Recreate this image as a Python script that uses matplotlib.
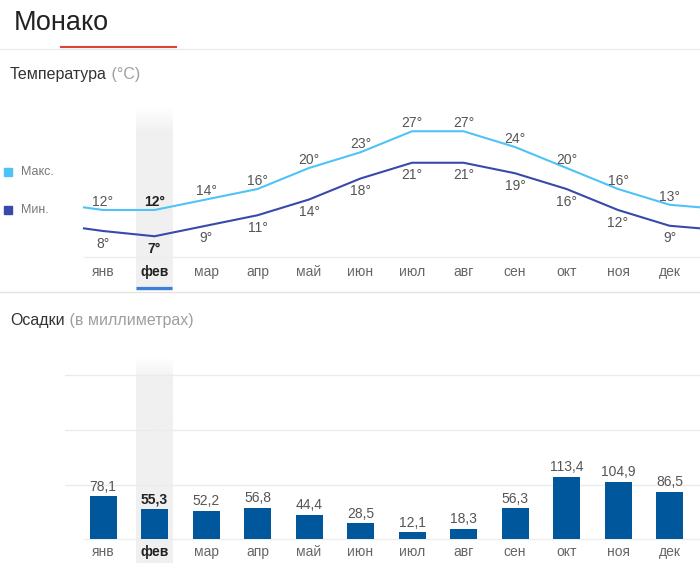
import numpy as np
import matplotlib.pyplot as plt
from matplotlib.lines import Line2D
from matplotlib.patches import Rectangle

plt.rcParams['font.family'] = ['Liberation Sans', 'DejaVu Sans']

months = ["янв", "фев", "мар", "апр", "май", "июн",
          "июл", "авг", "сен", "окт", "ноя", "дек"]
t_max = [12, 12, 14, 16, 20, 23, 27, 27, 24, 20, 16, 13]
t_min = [8, 7, 9, 11, 14, 18, 21, 21, 19, 16, 12, 9]
rain = [78.1, 55.3, 52.2, 56.8, 44.4, 28.5, 12.1, 18.3, 56.3, 113.4, 104.9, 86.5]
rain_grid = [100, 200, 300]
selected = 1  # фев

C_MAX = "#4fc3f7"
C_MIN = "#3949ab"
C_BAR = "#01579b"
C_TXT = "#555555"
C_SEL = "#222222"

W, H = 700, 563
fig = plt.figure(figsize=(W / 100, H / 100), dpi=100)


def px_rect(l, t, r, b):
    return [l / W, 1 - b / H, (r - l) / W, (b - t) / H]


def fy(py):
    return 1 - py / H


def shade(ax, sel, fade=0.13):
    # light grey column behind the selected month, fading out at the top
    y0, y1 = ax.get_ylim()
    x0, x1 = ax.get_xlim()
    n = 200
    img = np.ones((n, 1, 4))
    img[..., :3] = 240 / 255
    img[:, 0, 3] = np.clip(np.linspace(0, 1, n) / fade, 0, 1)
    ax.imshow(img, extent=[sel - 0.36, sel + 0.34, y0, y1], aspect="auto",
              zorder=0, interpolation="bilinear")
    ax.set_xlim(x0, x1)
    ax.set_ylim(y0, y1)


def month_labels(ax, ypos):
    tr = ax.get_xaxis_transform()
    for i, m in enumerate(months):
        sel = i == selected
        ax.text(i, ypos, m, transform=tr, ha="center", va="center", fontsize=10,
                color=C_SEL if sel else "#666666",
                fontweight="bold" if sel else "normal")


XLIM = (-0.738, 11.592)

# header
fig.text(14 / W, fy(23), "Монако", fontsize=19.5, color="#222222", va="center")
fig.add_artist(Line2D([0, 1], [fy(48.5)] * 2, color="#ebebeb", lw=1))
fig.add_artist(Line2D([61 / W, 176 / W], [fy(46.5)] * 2, color="#db4437", lw=1.5))
fig.add_artist(Line2D([0, 1], [fy(291.5)] * 2, color="#e3e3e3", lw=1))

# temperature
ax_t = fig.add_axes(px_rect(65, 108, 700, 291))
ax_t.set_xlim(*XLIM)
ax_t.set_ylim(-3.43, 31.43)
ax_t.axis("off")
shade(ax_t, selected, fade=0.14)

h1 = fig.text(10 / W, fy(75), "Температура", fontsize=11.5, color="#333333", va="center")
ax_t.annotate(" (°C)", xy=(1, 0.5), xycoords=h1, va="center", ha="left",
              fontsize=11.5, color="#9e9e9e", annotation_clip=False)

x = np.arange(len(months))
xe = np.concatenate([[-0.37], x, [11.6]])
for vals, col in ((t_max, C_MAX), (t_min, C_MIN)):
    edge = (vals[0] + vals[-1]) / 2
    ax_t.plot(xe, [edge] + vals + [edge], color=col, lw=1.5, zorder=3,
              solid_joinstyle="round")

for i in x:
    sel = i == selected
    kw = dict(ha="center", fontsize=10, textcoords="offset points",
              color=C_SEL if sel else C_TXT,
              fontweight="bold" if sel else "normal", zorder=4)
    ax_t.annotate(f"{t_max[i]}°", (i, t_max[i]), xytext=(0, 3), va="baseline", **kw)
    ax_t.annotate(f"{t_min[i]}°", (i, t_min[i]), xytext=(0, -4), va="top", **kw)

ax_t.axhline(3.05, xmin=19 / 635, xmax=1, color="#eeeeee", lw=1, zorder=1)
month_labels(ax_t, 0.104)
ax_t.plot([selected - 0.36, selected + 0.34], [0.014, 0.014],
          transform=ax_t.get_xaxis_transform(), color="#3a7fd5", lw=2.3,
          solid_capstyle="butt", zorder=4)

# legend
for py, col, lab in ((172, C_MAX, "Макс."), (210, C_MIN, "Мин.")):
    fig.add_artist(Rectangle((4 / W, fy(py + 4)), 8 / W, 8 / H, color=col,
                             transform=fig.transFigure))
    fig.text(21 / W, fy(py), lab, fontsize=9, color="#777777", va="center")

# precipitation
ax_r = fig.add_axes(px_rect(65, 357, 700, 563))
ax_r.set_xlim(*XLIM)
ax_r.set_ylim(-44.0, 333.9)
ax_r.axis("off")
shade(ax_r, selected, fade=0.11)

h2 = fig.text(10 / W, fy(320), "Осадки", fontsize=11.5, color="#333333", va="center")
ax_r.annotate(" (в миллиметрах)", xy=(1, 0.5), xycoords=h2, va="center", ha="left",
              fontsize=11.5, color="#9e9e9e", annotation_clip=False)

for g in rain_grid:
    ax_r.axhline(g, color="#ebebeb", lw=1, zorder=1)
ax_r.axhline(0, xmin=19 / 635, xmax=1, color="#eeeeee", lw=1, zorder=1)

ax_r.bar(x, rain, width=0.524, color=C_BAR, zorder=3)
for i in x:
    sel = i == selected
    ax_r.annotate(f"{rain[i]:.1f}".replace(".", ","), (i, rain[i]), xytext=(0, 2),
                  textcoords="offset points", ha="center", va="bottom", fontsize=10,
                  color=C_SEL if sel else C_TXT,
                  fontweight="bold" if sel else "normal", zorder=4)
month_labels(ax_r, 0.053)

fig.savefig("out.png", dpi=100)
plt.close(fig)
